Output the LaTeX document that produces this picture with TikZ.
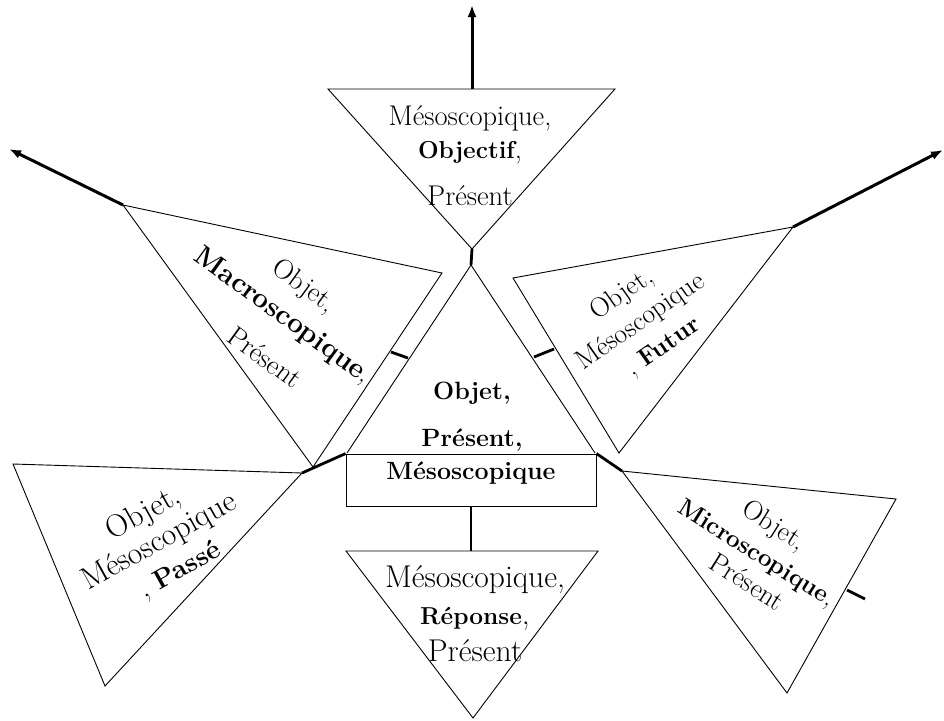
\documentclass[tikz,border=0pt]{standalone}
\usepackage{fontspec}
\setmainfont{Latin Modern Roman}
\usetikzlibrary{arrows.meta}
\begin{document}
\begin{tikzpicture}[x=1pt,y=-1pt,
  thinline/.style={line width=0.9pt, line join=miter},
  tickline/.style={line width=2.8pt},
  arrowline/.style={line width=3pt, -{Latex[length=12pt,width=9pt]}},
  lbl/.style={inner sep=0pt, align=center}]
\useasboundingbox (0,0) rectangle (944,720);
% vertices
\coordinate (T1) at (328,89);  \coordinate (T2) at (615,89);  \coordinate (T3) at (472,249);
\coordinate (C0) at (471,265); \coordinate (CL) at (347,453); \coordinate (CR) at (595,453);
\coordinate (M1) at (123,205); \coordinate (M2) at (442,273); \coordinate (M3) at (313,467);
\coordinate (F1) at (513,278); \coordinate (F2) at (793,227); \coordinate (F3) at (619,453);
\coordinate (P1) at (13,464);  \coordinate (P2) at (302,473); \coordinate (P3) at (105,686);
\coordinate (B1) at (346,551); \coordinate (B2) at (598,551); \coordinate (B3) at (473,718);
\coordinate (R1) at (622,471); \coordinate (R2) at (896,499); \coordinate (R3) at (787,693);
% arrow ends
\coordinate (Ttop) at (472,89); \coordinate (Tend) at (472,5);
\coordinate (Mend) at (9,149);
\coordinate (Fend) at (943,150);
% tick ends
\coordinate (tl1) at (391,352); \coordinate (tl2) at (408,358);
\coordinate (tr1) at (534,357); \coordinate (tr2) at (554,349);
\coordinate (tm1) at (847,590); \coordinate (tm2) at (865,599);

% triangles
\draw[thinline] (T1) -- (T2) -- (T3) -- cycle;
\draw[thinline] (M1) -- (M2) -- (M3) -- cycle;
\draw[thinline] (F1) -- (F2) -- (F3) -- cycle;
\draw[thinline] (P1) -- (P2) -- (P3) -- cycle;
\draw[thinline] (B1) -- (B2) -- (B3) -- cycle;
\draw[thinline] (R1) -- (R2) -- (R3) -- cycle;
\draw[thinline] (CL) -- (C0) -- (CR);
% central box
\node[draw, thinline, rectangle, minimum width=250pt, minimum height=52pt, inner sep=0pt] (box) at (471,480) {};

% arrows
\draw[arrowline] (Ttop) -- (Tend);
\draw[arrowline] (M1) -- (Mend);
\draw[arrowline] (F2) -- (Fend);
% connectors / ticks
\draw[tickline] (T3) -- (C0);
\draw[tickline] (tl1) -- (tl2);
\draw[tickline] (tr1) -- (tr2);
\draw[tickline] (tm1) -- (tm2);
\draw[tickline] (box.south) -- (box.south |- B1);
\draw[tickline] (P2) -- (box.north west);
\draw[tickline] (box.north east) -- (R1);

% texts
\node[lbl, font=\fontsize{28.5}{33}\selectfont] (ttxt) at (470,156)
  {Mésoscopique,\\ {\fontsize{24.5}{33}\selectfont\bfseries Objectif},\\[14pt] Présent};
\node[lbl, font=\fontsize{25}{33}\selectfont\bfseries] (ctxt) at (472,417) {Objet,\\[14pt] Présent,};
\node[lbl, font=\fontsize{25}{33}\selectfont\bfseries] (btxt) at (471,473) {Mésoscopique};
\node[lbl, font=\fontsize{31.5}{37}\selectfont] (bottxt) at (475,614)
  {Mésoscopique,\\ {\fontsize{24.5}{37}\selectfont\bfseries Réponse},\\ Présent};
\node[lbl, rotate=-36, font=\fontsize{28}{34}\selectfont] (mtxt) at (281,318)
  {Objet,\\[2pt] {\fontsize{28}{34}\selectfont\bfseries Macroscopique},\\[12pt] \hspace*{20pt}Présent};
\node[lbl, rotate=35, font=\fontsize{27.5}{33}\selectfont] (ftxt) at (641,322)
  {Objet,\\ Mésoscopique\\ \hspace*{8pt}, {\fontsize{25}{33}\selectfont\bfseries Futur}};
\node[lbl, rotate=29, font=\fontsize{31.5}{32}\selectfont] (ptxt) at (160,543)
  {Objet,\\ Mésoscopique\\[2pt] \hspace*{8pt}, {\fontsize{27}{32}\selectfont\bfseries Passé}};
\node[lbl, rotate=-32, font=\fontsize{27.5}{32}\selectfont] (rtxt) at (758,551)
  {Objet,\\ {\fontsize{24.5}{32}\selectfont\bfseries Microscopique},\\[-1pt] \hspace*{14pt}Présent};
\end{tikzpicture}
\end{document}
